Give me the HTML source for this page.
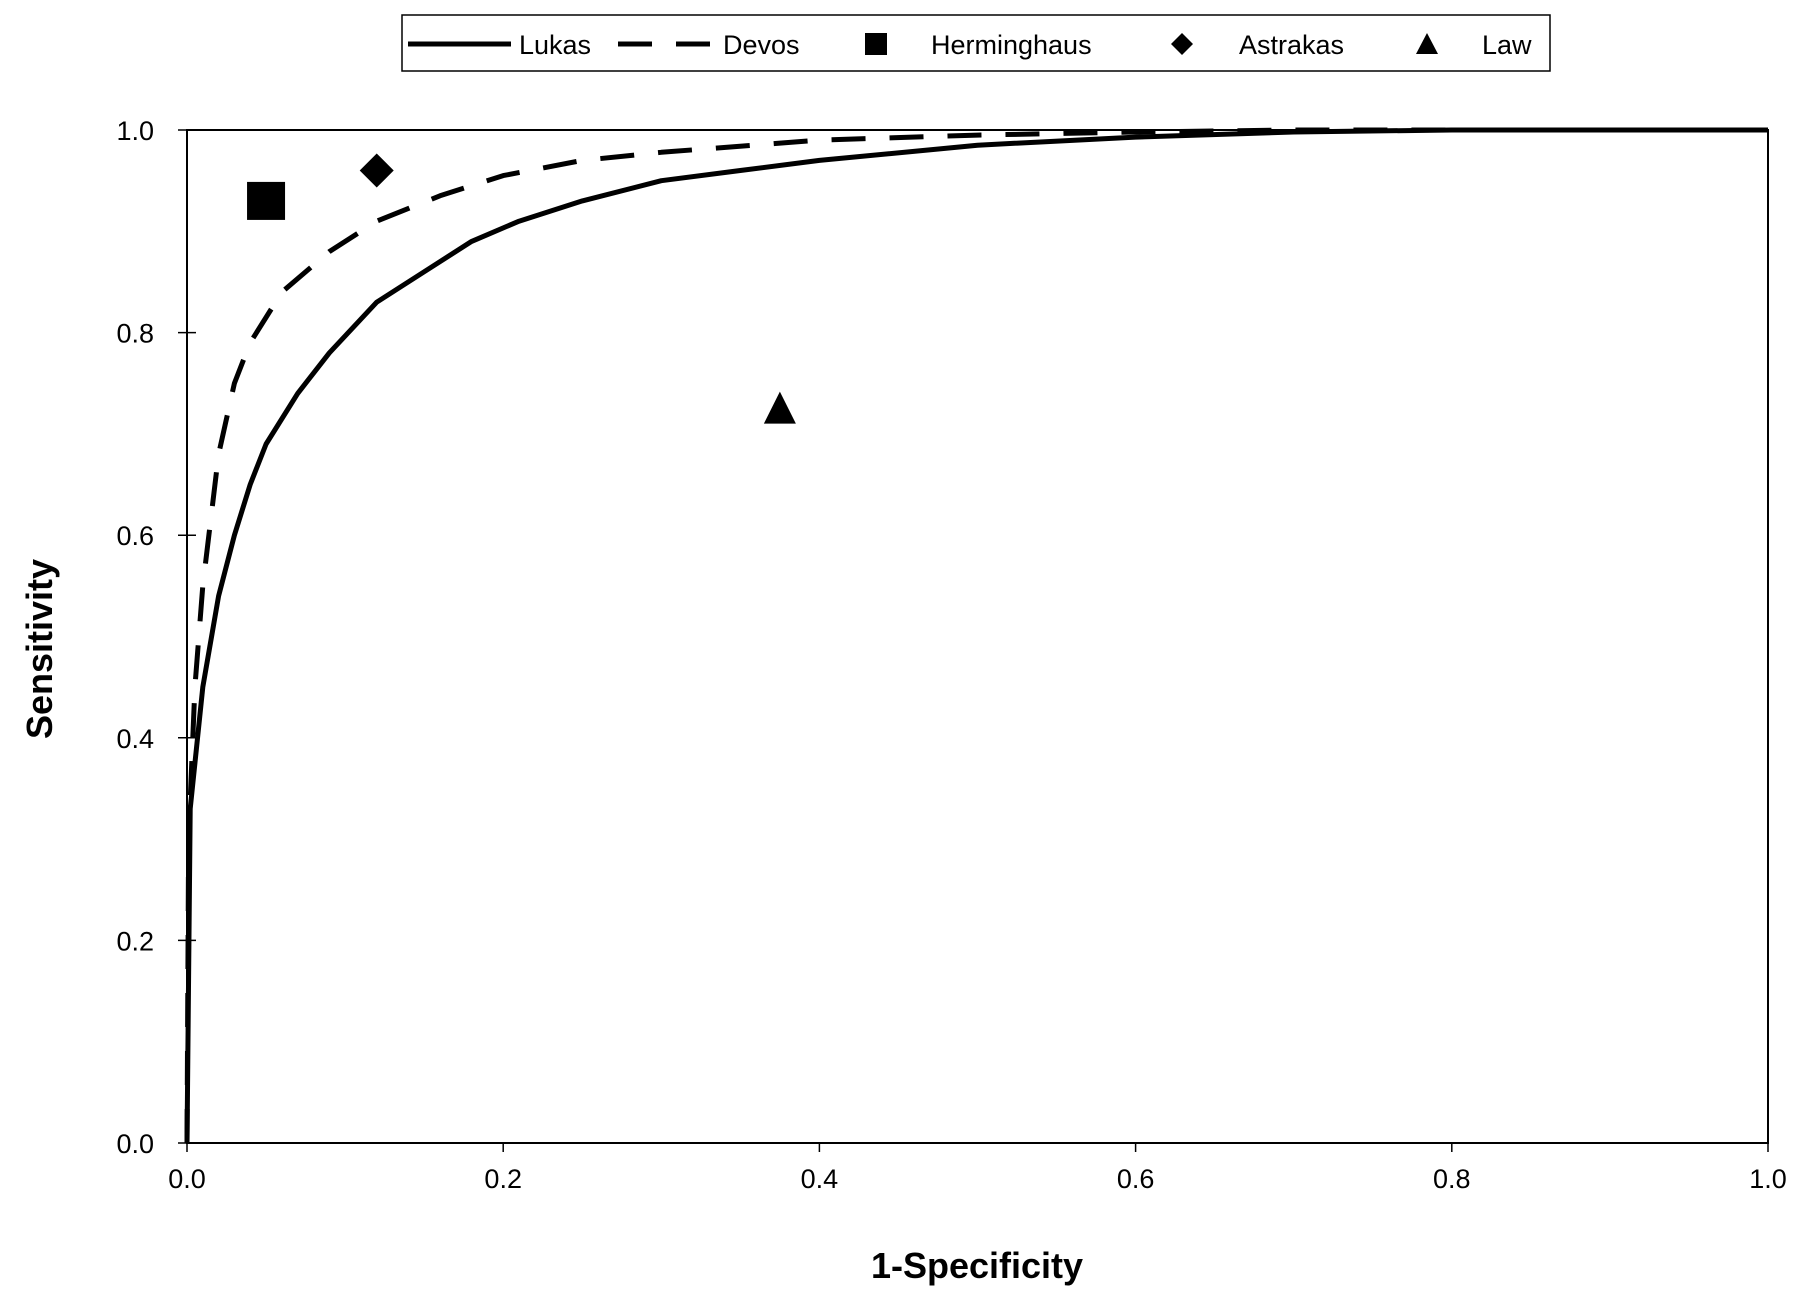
<!DOCTYPE html>
<html><head><meta charset="utf-8"><style>
html,body{margin:0;padding:0;background:#fff;}
svg{display:block;font-family:"Liberation Sans",Arial,sans-serif;}
</style></head><body>
<svg id="chart" width="1800" height="1298" viewBox="0 0 1800 1298" xmlns="http://www.w3.org/2000/svg">
<g>
<rect x="402" y="15" width="1148" height="56" fill="#fff" stroke="#000" stroke-width="1.5"/>
<g><line x1="408" y1="44" x2="511" y2="44" stroke="#000" stroke-width="5"/><text x="519" y="54" font-size="27">Lukas</text></g>
<g><line x1="618" y1="44" x2="714" y2="44" stroke="#000" stroke-width="5" stroke-dasharray="34,24"/><text x="723" y="54" font-size="27">Devos</text></g>
<g><rect x="865" y="33" width="22" height="22" fill="#000"/><text x="931" y="54" font-size="27">Herminghaus</text></g>
<g><polygon points="1182,33 1193,44 1182,55 1171,44" fill="#000"/><text x="1239" y="54" font-size="27">Astrakas</text></g>
<g><polygon points="1427,33 1438,54 1416,54" fill="#000"/><text x="1482" y="54" font-size="27">Law</text></g>
</g>
<rect x="187" y="130" width="1581" height="1013" fill="#fff" stroke="#000" stroke-width="2"/>
<g id="axes"></g>
<g id="series"></g>
<text transform="translate(52,649) rotate(-90)" text-anchor="middle" font-size="36" font-weight="bold">Sensitivity</text>
<text x="977" y="1278" text-anchor="middle" font-size="36" font-weight="bold">1-Specificity</text>
</svg>
<script>
const xTicks=[0,0.2,0.4,0.6,0.8,1.0];
const yTicks=[0,0.2,0.4,0.6,0.8,1.0];
const lukasX=[0,0.002,0.01,0.02,0.03,0.04,0.05,0.07,0.09,0.12,0.15,0.18,0.21,0.25,0.3,0.35,0.4,0.5,0.6,0.7,0.8,1];
const lukasY=[0,0.33,0.45,0.54,0.60,0.65,0.69,0.74,0.78,0.83,0.86,0.89,0.91,0.93,0.95,0.96,0.97,0.985,0.993,0.998,1,1];
const devosX=[0,0.001,0.005,0.01,0.02,0.03,0.04,0.06,0.09,0.12,0.16,0.2,0.25,0.3,0.4,0.5,0.6,0.7,1];
const devosY=[0,0.3,0.45,0.55,0.68,0.75,0.79,0.84,0.88,0.91,0.935,0.955,0.97,0.978,0.99,0.995,0.998,1,1];
const pointNames=["herminghaus","astrakas","law"];
const pointX=[0.05,0.12,0.375];
const pointY=[0.93,0.96,0.725];
const X0=187,X1=1768,Y0=1143,Y1=130;
const sx=v=>X0+v*(X1-X0), sy=v=>Y0-v*(Y0-Y1);
const NS="http://www.w3.org/2000/svg";
const axes=document.getElementById('axes'), ser=document.getElementById('series');
function mk(tag,attrs,parent){const e=document.createElementNS(NS,tag);for(const k in attrs)e.setAttribute(k,attrs[k]);parent.appendChild(e);return e;}
xTicks.forEach(t=>{
  const l=mk('line',{x1:sx(t),x2:sx(t),y1:Y0,y2:Y0+9,stroke:'#000','stroke-width':1.5},axes);
  
  
  const tx=mk('text',{x:sx(t),y:Y0+45,'text-anchor':'middle','font-size':27},axes);
  tx.textContent=t.toFixed(1);
  
  
});
yTicks.forEach(t=>{
  const l=mk('line',{x1:X0-9,x2:X0+9,y1:sy(t),y2:sy(t),stroke:'#000','stroke-width':1.5},axes);
  
  
  const tx=mk('text',{x:X0-33,y:sy(t)+10,'text-anchor':'end','font-size':27},axes);
  tx.textContent=t.toFixed(1);
  
  
});
function path(xs,ys){return xs.map((x,i)=>(i?'L':'M')+sx(x).toFixed(1)+','+sy(ys[i]).toFixed(1)).join(' ');}
const dv=mk('path',{d:path(devosX,devosY),fill:'none',stroke:'#000','stroke-width':5,'stroke-dasharray':'34,24','stroke-linejoin':'round'},ser);


const lk=mk('path',{d:path(lukasX,lukasY),fill:'none',stroke:'#000','stroke-width':5,'stroke-linejoin':'round'},ser);


pointNames.forEach((n,i)=>{
  const cx=sx(pointX[i]),cy=sy(pointY[i]);let e;
  if(n==='herminghaus')e=mk('rect',{x:cx-19,y:cy-19,width:38,height:38,fill:'#000'},ser);
  else if(n==='astrakas')e=mk('polygon',{points:`${cx},${cy-17} ${cx+17},${cy} ${cx},${cy+17} ${cx-17},${cy}`,fill:'#000'},ser);
  else e=mk('polygon',{points:`${cx},${cy-17} ${cx+16},${cy+15} ${cx-16},${cy+15}`,fill:'#000'},ser);
  
  
});
</script>
</body></html>
